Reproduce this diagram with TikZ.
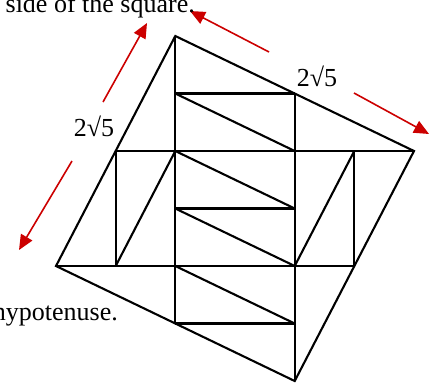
\documentclass[tikz,border=0pt]{standalone}
\usepackage{fontspec}
\setmainfont{Liberation Serif}
\usetikzlibrary{arrows.meta}
\definecolor{arrred}{RGB}{204,0,0}
\tikzset{
  edge/.style={line width=2.1pt, black},
  redarrow/.style={line width=1.6pt, arrred, -{Triangle[length=15pt,width=13pt]}},
  lbl/.style={inner sep=0pt, font=\fontsize{26}{31}\selectfont}
}
\begin{document}
\begin{tikzpicture}[x=1pt,y=-1pt]
\useasboundingbox (0,0) rectangle (435,383);
\clip (0,0) rectangle (435,383);
% grid points
\coordinate (T) at (175.3,36);
\coordinate (R) at (414,151);
\coordinate (B) at (294.7,381);
\coordinate (L) at (56,266);
\coordinate (a21) at (175.3,93.5);
\coordinate (a41) at (294.7,93.5);
\coordinate (a12) at (115.7,151);
\coordinate (a22) at (175.3,151);
\coordinate (a42) at (294.7,151);
\coordinate (a52) at (354.3,151);
\coordinate (a23) at (175.3,208.5);
\coordinate (a43) at (294.7,208.5);
\coordinate (a14) at (115.7,266);
\coordinate (a24) at (175.3,266);
\coordinate (a44) at (294.7,266);
\coordinate (a54) at (354.3,266);
\coordinate (a25) at (175.3,323.5);
\coordinate (a45) at (294.7,323.5);
% square
\draw[edge] (T) -- (R) -- (B) -- (L) -- cycle;
% verticals
\draw[edge] (T) -- (a25);
\draw[edge] (a41) -- (B);
\draw[edge] (a12) -- (a14);
\draw[edge] (a52) -- (a54);
% horizontals
\draw[edge] (a21) -- (a41);
\draw[edge] (a12) -- (R);
\draw[edge] (a23) -- (a43);
\draw[edge] (L) -- (a54);
\draw[edge] (a25) -- (a45);
% diagonals
\draw[edge] (a21) -- (a42);
\draw[edge] (a22) -- (a43);
\draw[edge] (a23) -- (a44);
\draw[edge] (a24) -- (a45);
\draw[edge] (a22) -- (a14);
\draw[edge] (a52) -- (a44);
% red arrows
\coordinate (u1) at (103,102);
\coordinate (u2) at (147,23);
\coordinate (d1) at (72,161);
\coordinate (d2) at (19,250);
\coordinate (p1) at (269,52);
\coordinate (p2) at (190,11);
\coordinate (q1) at (354,93);
\coordinate (q2) at (429,134);
\draw[redarrow] (u1) -- (u2);
\draw[redarrow] (d1) -- (d2);
\draw[redarrow] (p1) -- (p2);
\draw[redarrow] (q1) -- (q2);
% labels
\node[lbl, anchor=base] (lab1) at (94,136) {2√5};
\node[lbl, anchor=base] (lab2) at (317,86.5) {2√5};
\node[lbl, anchor=base east] (txt1) at (195,12.5) {r side of the square.};
\node[lbl, anchor=base east] (txt2) at (118,320) {hypotenuse.};
\end{tikzpicture}
\end{document}
